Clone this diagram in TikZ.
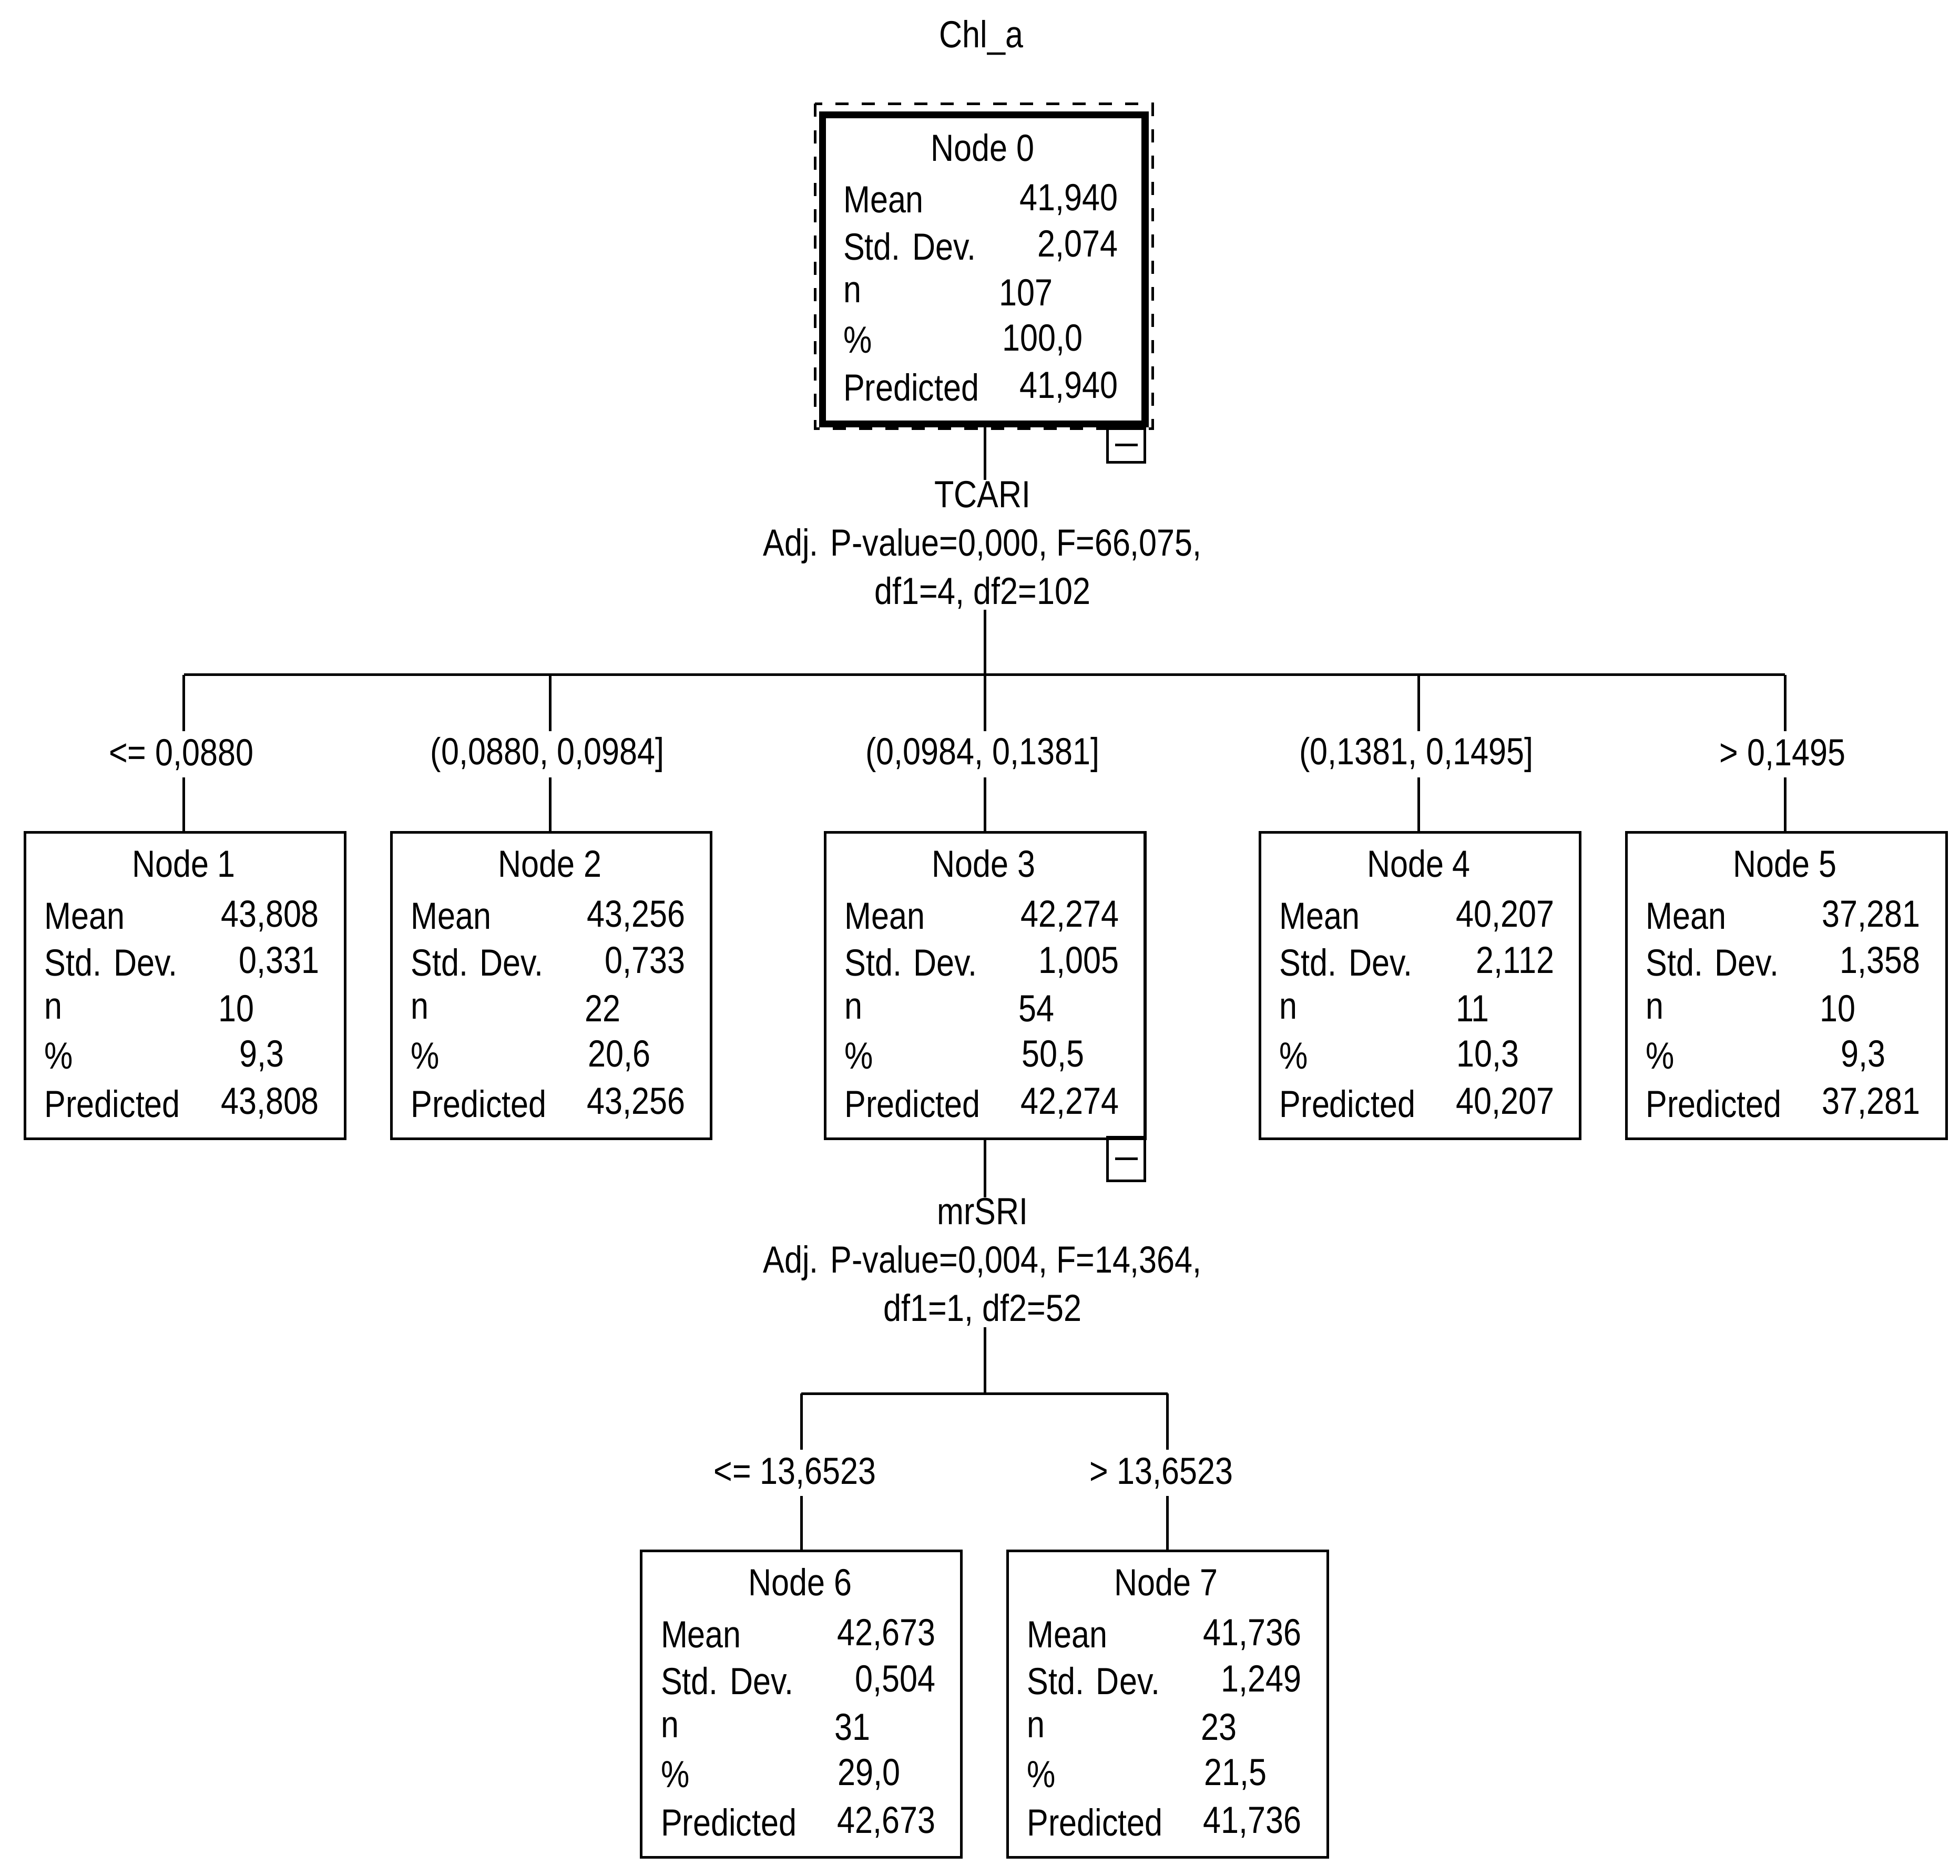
\documentclass[tikz,border=0pt]{standalone}
\usepackage{fontspec}
\setmainfont{Liberation Sans}[FakeStretch=0.85]
\usetikzlibrary{positioning}

\tikzset{
  leaf/.style={draw, line width=0.6pt, minimum width=2.56cm, minimum height=2.45cm, anchor=north west, inner sep=0pt},
  txt/.style={font=\fontsize{8.6}{10}\selectfont, inner sep=0pt},
  split/.style={txt, align=center},
  edge/.style={line width=0.6pt}
}

% one box of the tree: name, x, y, title, mean, sd, n, pct, predicted
\newcommand{\treebox}[9]{%
  \node[leaf] (#1) at (#2,#3) {};
  \node[txt] at ([xshift=1.28cm,yshift=-0.26cm]#1.north west) {#4};
  \node[txt,anchor=west] at ([xshift=0.16cm,yshift=-0.68cm]#1.north west) {Mean};
  \node[txt,anchor=west] at ([xshift=0.16cm,yshift=-1.05cm]#1.north west) {Std. Dev.};
  \node[txt,anchor=west] at ([xshift=0.16cm,yshift=-1.42cm]#1.north west) {n};
  \node[txt,anchor=west] at ([xshift=0.16cm,yshift=-1.80cm]#1.north west) {\%};
  \node[txt,anchor=west] at ([xshift=0.16cm,yshift=-2.18cm]#1.north west) {Predicted};
  \node[txt,anchor=east] at ([xshift=2.37cm,yshift=-0.68cm]#1.north west) {#5};
  \node[txt,anchor=east] at ([xshift=2.37cm,yshift=-1.05cm]#1.north west) {#6};
  \node[txt,anchor=east] at ([xshift=1.85cm,yshift=-1.42cm]#1.north west) {#7};
  \node[txt,anchor=east] at ([xshift=2.09cm,yshift=-1.80cm]#1.north west) {#8};
  \node[txt,anchor=east] at ([xshift=2.37cm,yshift=-2.18cm]#1.north west) {#9};
}

\begin{document}
\begin{tikzpicture}
\useasboundingbox (0,0) rectangle (15.68,-15.007);

\node[txt] (title) at (7.85,-0.30) {Chl\_a};

% root
\treebox{n0}{6.58}{-0.92}{Node 0}{41,940}{2,074}{107}{100,0}{41,940}
\draw[line width=1.6pt] (n0.north west) rectangle (n0.south east);
\draw[dashed, line width=0.6pt] (6.52,-0.83) rectangle (9.22,-3.43);
\draw[line width=0.6pt] (8.86,-3.43) rectangle (9.16,-3.70);
\draw[line width=0.6pt] (8.92,-3.56) -- (9.10,-3.56);

\node[split] (s0) at (7.86,-4.36) {TCARI\\[1pt]Adj. P-value=0,000, F=66,075,\\[1pt]df1=4, df2=102};
\coordinate (bar0) at (7.88,-5.40);
\draw[edge] (n0.south -| bar0) -- (s0.north -| bar0);
\draw[edge] (s0.south -| bar0) -- (bar0);
\draw[edge] (1.47,-5.40) -- (14.28,-5.40);

% first level
\treebox{n1}{0.19}{-6.65}{Node 1}{43,808}{0,331}{10}{9,3}{43,808}
\treebox{n2}{3.12}{-6.65}{Node 2}{43,256}{0,733}{22}{20,6}{43,256}
\treebox{n3}{6.59}{-6.65}{Node 3}{42,274}{1,005}{54}{50,5}{42,274}
\treebox{n4}{10.07}{-6.65}{Node 4}{40,207}{2,112}{11}{10,3}{40,207}
\treebox{n5}{13.00}{-6.65}{Node 5}{37,281}{1,358}{10}{9,3}{37,281}

\foreach \k/\x/\lab in {1/1.47/{<= 0,0880}, 2/4.40/{(0,0880, 0,0984]}, 3/7.88/{(0,0984, 0,1381]}, 4/11.35/{(0,1381, 0,1495]}, 5/14.28/{> 0,1495}} {
  \node[txt] (b\k) at (\x-0.02,-6.04) {\lab};
  \draw[edge] (\x,-5.40) -- (\x,-5.85);
  \draw[edge] (\x,-6.22) -- (n\k.north -| \x,0);
}

\draw[line width=0.6pt] (8.86,-9.10) rectangle (9.16,-9.45);
\draw[line width=0.6pt] (8.92,-9.27) -- (9.10,-9.27);

\node[split] (s3) at (7.86,-10.10) {mrSRI\\[1pt]Adj. P-value=0,004, F=14,364,\\[1pt]df1=1, df2=52};
\coordinate (bar3) at (7.88,-11.15);
\draw[edge] (n3.south -| bar3) -- (s3.north -| bar3);
\draw[edge] (s3.south -| bar3) -- (bar3);
\draw[edge] (6.41,-11.15) -- (9.34,-11.15);

% second level
\treebox{n6}{5.12}{-12.40}{Node 6}{42,673}{0,504}{31}{29,0}{42,673}
\treebox{n7}{8.05}{-12.40}{Node 7}{41,736}{1,249}{23}{21,5}{41,736}

\foreach \k/\x/\lab in {6/6.41/{<= 13,6523}, 7/9.34/{> 13,6523}} {
  \node[txt] (b\k) at (\x-0.05,-11.79) {\lab};
  \draw[edge] (\x,-11.15) -- (\x,-11.60);
  \draw[edge] (\x,-11.97) -- (n\k.north -| \x,0);
}

\end{tikzpicture}
\end{document}
